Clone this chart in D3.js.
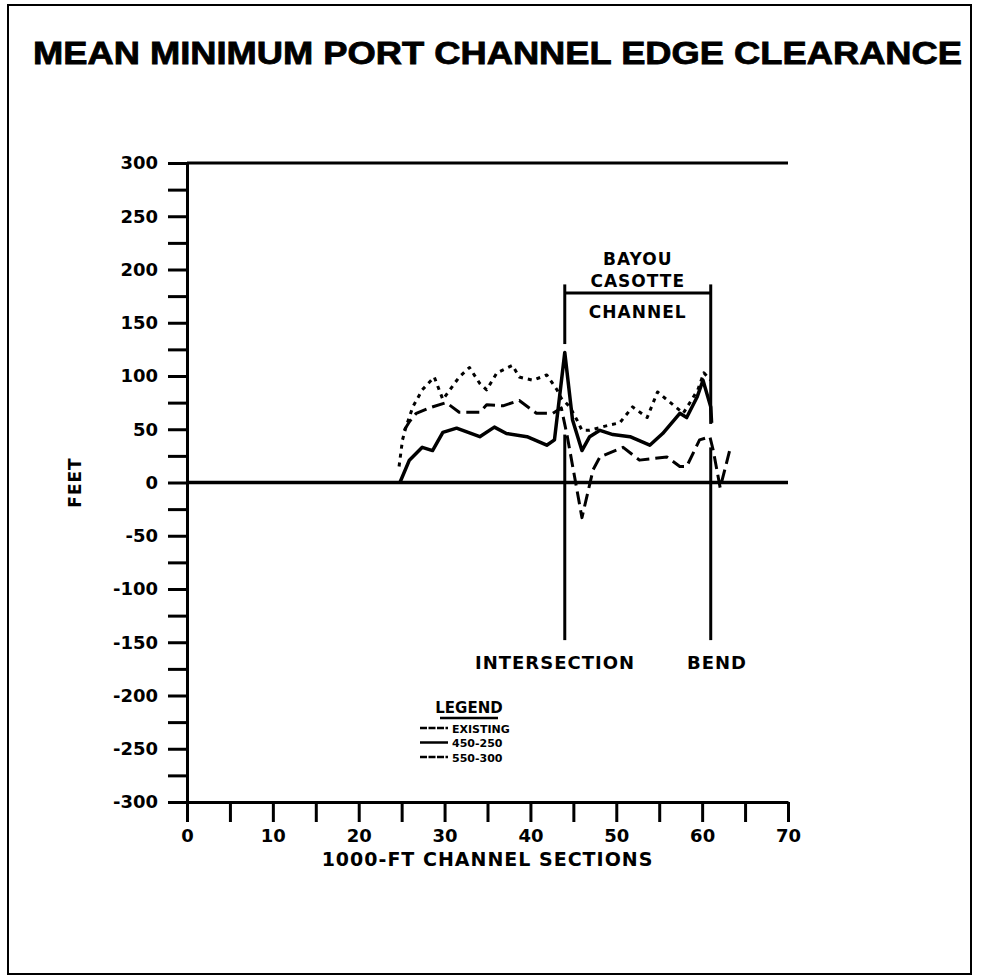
<!DOCTYPE html>
<html>
<head>
<meta charset="utf-8">
<script src="https://cdn.jsdelivr.net/npm/d3@7"></script>
<style>
  body { margin: 0; background: #fff; }
  svg { display: block; }
  text { font-family: "DejaVu Sans", sans-serif; font-weight: bold; fill: #000; }
</style>
</head>
<body>
<svg id="chart"></svg>
<script>
// Chart values
const titleText = "MEAN MINIMUM PORT CHANNEL EDGE CLEARANCE";
const xTickValues = [0, 5, 10, 15, 20, 25, 30, 35, 40, 45, 50, 55, 60, 65, 70];
const yTickValues = d3.range(-300, 301, 25);

// EXISTING (long dashes)
const existingSec = [25.3, 25.9, 26.7, 28.2, 30.2, 31.7, 34.1, 34.9, 36.8, 38.7, 40.7, 42.6, 43.6, 44.3, 46.0, 47.3, 48.1, 50.8, 52.7, 55.9, 57.4, 58.2, 59.7, 60.9, 61.3, 62.1, 63.3];
const existingFt  = [49, 57, 65, 70, 75, 66, 66, 73, 72, 77, 65, 65, 70, 43, -33, 12, 24, 33, 21, 24, 15, 15, 40, 43, 30, -5, 33];

// 450-250 (solid)
const w450Sec = [24.8, 25.9, 27.4, 28.6, 29.8, 31.4, 34.1, 35.8, 37.2, 39.6, 41.9, 42.8, 44.0, 44.9, 46.0, 46.9, 48.1, 49.6, 51.6, 53.9, 55.4, 57.4, 58.2, 59.4, 60.1, 61.0, 61.1];
const w450Ft  = [0, 21, 33, 30, 47, 51, 43, 52, 46, 43, 35, 40, 122, 59, 30, 43, 49, 45, 43, 35, 46, 65, 61, 80, 96, 71, 56];

// 550-300 (short dashes)
const w550Sec = [24.7, 25.1, 25.5, 26.3, 27.4, 28.8, 29.8, 31.7, 32.9, 34.1, 34.9, 36.1, 37.9, 38.7, 40.3, 41.9, 43.1, 43.6, 44.6, 45.4, 46.0, 46.9, 49.2, 50.4, 51.9, 53.6, 54.8, 56.6, 57.8, 59.5, 60.2, 61.0];
const w550Ft  = [15, 40, 52, 71, 87, 99, 78, 99, 108, 93, 87, 103, 110, 99, 96, 101, 87, 79, 71, 59, 49, 49, 54, 56, 71, 61, 85, 73, 65, 87, 103, 96];

// Markers: intersection and bend, with bracket over Bayou Casotte channel
const intersectionSec = 44;
const bendSec = 61;
const bracketFt = 178;

const series = [
    { name: "EXISTING", sec: existingSec, ft: existingFt, dash: "13,6", width: 3 },
    { name: "450-250",  sec: w450Sec,     ft: w450Ft,     dash: null,   width: 3.5 },
    { name: "550-300",  sec: w550Sec,     ft: w550Ft,     dash: "4,5",  width: 3 }
];

const width = 985, height = 979;
const svg = d3.select("#chart").attr("width", width).attr("height", height);

// outer frame
svg.append("rect")
    .attr("x", 8).attr("y", 5)
    .attr("width", 963).attr("height", 969)
    .attr("fill", "none").attr("stroke", "#000").attr("stroke-width", 2);

// title
svg.append("text")
    .attr("x", 33).attr("y", 64)
    .style("font-family", "'Liberation Sans', Arial, sans-serif")
    .attr("font-size", 31)
    .attr("stroke", "#000").attr("stroke-width", 0.8)
    .attr("textLength", 929)
    .attr("lengthAdjust", "spacingAndGlyphs")
    .text(titleText);

// scales
const x = d3.scaleLinear().domain([0, 70]).range([187, 788]);
const y = d3.scaleLinear().domain([-300, 300]).range([802, 163]);

// y axis
const yAxis = svg.append("g")
    .attr("transform", `translate(${x(0)},0)`)
    .call(d3.axisLeft(y)
        .tickValues(yTickValues)
        .tickSize(19)
        .tickSizeOuter(0)
        .tickPadding(10)
        .tickFormat(d => d % 50 === 0 ? String(d) : ""));
yAxis.selectAll("line, path").attr("stroke", "#000").attr("stroke-width", 3);
yAxis.selectAll("text").attr("font-size", 18).style("font-family", "'DejaVu Sans', sans-serif");

// x axis
const xAxis = svg.append("g")
    .attr("transform", `translate(0,${y(-300)})`)
    .call(d3.axisBottom(x)
        .tickValues(xTickValues)
        .tickSize(20)
        .tickSizeOuter(0)
        .tickPadding(7)
        .tickFormat(d => d % 10 === 0 ? String(d) : ""));
xAxis.selectAll("line, path").attr("stroke", "#000").attr("stroke-width", 3);
xAxis.selectAll("text").attr("font-size", 18).style("font-family", "'DejaVu Sans', sans-serif");

// top border line at 300
svg.append("line")
    .attr("x1", x(0)).attr("x2", x(70))
    .attr("y1", y(300)).attr("y2", y(300))
    .attr("stroke", "#000").attr("stroke-width", 3);

// zero line
svg.append("line")
    .attr("x1", x(0)).attr("x2", x(70))
    .attr("y1", y(0)).attr("y2", y(0))
    .attr("stroke", "#000").attr("stroke-width", 3.5);

// axis titles
svg.append("text")
    .attr("x", x(35)).attr("y", 866)
    .attr("text-anchor", "middle")
    .attr("font-size", 19)
    .attr("letter-spacing", 1)
    .text("1000-FT CHANNEL SECTIONS");

svg.append("text")
    .attr("transform", `translate(81,${y(0)}) rotate(-90)`)
    .attr("text-anchor", "middle")
    .attr("font-size", 17)
    .attr("letter-spacing", 1)
    .text("FEET");

// data lines
const line = d3.line()
    .x(d => x(d[0]))
    .y(d => y(d[1]));

svg.append("g")
    .selectAll("path")
    .data(series)
    .join("path")
    .attr("d", s => line(s.sec.map((v, i) => [v, s.ft[i]])))
    .attr("fill", "none")
    .attr("stroke", "#000")
    .attr("stroke-width", s => s.width)
    .attr("stroke-linejoin", "round")
    .attr("stroke-dasharray", s => s.dash);

// intersection / bend markers
const markers = svg.append("g").attr("stroke", "#000").attr("stroke-width", 3);
[[intersectionSec, 186, 130], [intersectionSec, 45, -148],
 [bendSec, 186, 55], [bendSec, 33, -148]].forEach(([s, a, b]) => {
    markers.append("line")
        .attr("x1", x(s)).attr("x2", x(s))
        .attr("y1", y(a)).attr("y2", y(b));
});
markers.append("line")
    .attr("x1", x(intersectionSec)).attr("x2", x(bendSec))
    .attr("y1", y(bracketFt)).attr("y2", y(bracketFt));

const midSec = (intersectionSec + bendSec) / 2;
const note = (tx, ty, s, size) => svg.append("text")
    .attr("x", tx).attr("y", ty)
    .attr("text-anchor", "middle")
    .attr("font-size", size)
    .attr("letter-spacing", 1)
    .text(s);
note(x(midSec), 265, "BAYOU", 17);
note(x(midSec), 287, "CASOTTE", 17);
note(x(midSec), 318, "CHANNEL", 17);
note(555, 669, "INTERSECTION", 18);
note(717, 669, "BEND", 18);

// legend
const legend = svg.append("g");
legend.append("text").attr("x", 469).attr("y", 713)
    .attr("text-anchor", "middle").attr("font-size", 15).text("LEGEND");
legend.append("line")
    .attr("x1", 440).attr("x2", 498).attr("y1", 718).attr("y2", 718)
    .attr("stroke", "#000").attr("stroke-width", 2.5);

const rows = legend.selectAll("g.row")
    .data(series)
    .join("g")
    .attr("class", "row")
    .attr("transform", (d, i) => `translate(0,${728 + i * 14.5})`);
rows.append("line")
    .attr("x1", 420).attr("x2", 448)
    .attr("stroke", "#000")
    .attr("stroke-width", 2.5)
    .attr("stroke-dasharray", d => d.dash ? "7,1.5" : null);
rows.append("text")
    .attr("x", 452).attr("y", 4.5)
    .attr("font-size", 11)
    .text(d => d.name);
</script>
</body>
</html>
